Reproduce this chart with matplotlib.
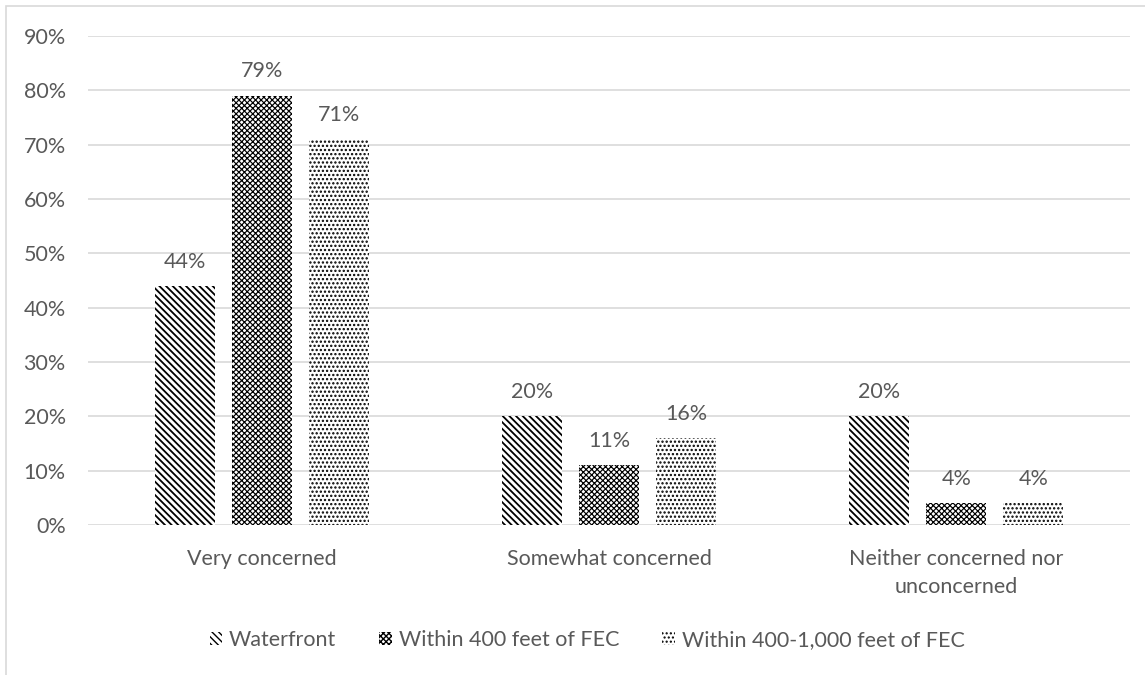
import matplotlib
matplotlib.use("Agg")
import matplotlib.pyplot as plt
from matplotlib.patches import Rectangle, Patch
import numpy as np

categories = ["Very concerned", "Somewhat concerned", "Neither concerned nor\nunconcerned"]
series_names = ["Waterfront", "Within 400 feet of FEC", "Within 400-1,000 feet of FEC"]
waterfront = [44, 20, 20]
within_400 = [79, 11, 4]
within_400_1000 = [71, 16, 4]
y_ticks = [0, 10, 20, 30, 40, 50, 60, 70, 80, 90]

series_values = [waterfront, within_400, within_400_1000]
hatches = ["\\" * 5, "x" * 6, "." * 4]
hatch_widths = [1.3, 0.85, 1.1]

TEXT = "#595959"
GRID = "#d9d9d9"
FONT = "Lato"
FS = 15.5

plt.rcParams["hatch.color"] = "black"

fig = plt.figure(figsize=(11.45, 6.75), dpi=100)
W, H = 1145, 675

# light chart frame (top and left edges visible)
fig.add_artist(Rectangle((6 / W, -0.1), 1.2, (H - 6) / H + 0.1, transform=fig.transFigure,
                         fill=False, edgecolor=GRID, linewidth=1.2))

ax = fig.add_axes([88 / W, (H - 525) / H, (1130 - 88) / W, (525 - 36) / H])
x = np.arange(len(categories))
step = 0.222
width = 0.173


def set_hatch_lw(patch, lw):
    if hasattr(patch, "set_hatch_linewidth"):
        patch.set_hatch_linewidth(lw)


for i, (name, vals, hatch, hlw) in enumerate(zip(series_names, series_values, hatches, hatch_widths)):
    pos = x + (i - 1) * step
    with plt.rc_context({"hatch.linewidth": hlw}):
        bars = ax.bar(pos, vals, width=width, color="white", edgecolor="black",
                      linewidth=0, hatch=hatch, label=name, zorder=3)
    for b, v in zip(bars, vals):
        set_hatch_lw(b, hlw)
        ax.annotate(f"{v}%", (b.get_x() + b.get_width() / 2, v), xytext=(0, 17.5),
                    textcoords="offset points", ha="center", va="center",
                    fontsize=FS, color=TEXT, family=FONT)

ax.set_xlim(-0.5, len(categories) - 0.5)
ax.set_ylim(0, 90)
ax.set_yticks(y_ticks)
ax.set_yticklabels([f"{t}%" for t in y_ticks], fontsize=FS, color=TEXT, family=FONT)
ax.set_xticks(x)
ax.set_xticklabels(categories, fontsize=FS, color=TEXT, family=FONT, linespacing=1.5)
ax.tick_params(axis="both", length=0)
ax.tick_params(axis="y", pad=16)
ax.tick_params(axis="x", pad=17)
ax.grid(axis="y", color=GRID, linewidth=1.2, zorder=0)
ax.set_axisbelow(True)
for s in ax.spines.values():
    s.set_visible(False)

handles = []
for h, hlw in zip(hatches, hatch_widths):
    with plt.rc_context({"hatch.linewidth": hlw}):
        p = Patch(facecolor="white", edgecolor="black", linewidth=0, hatch=h)
    set_hatch_lw(p, hlw)
    handles.append(p)
leg = fig.legend(handles, series_names, loc="center", bbox_to_anchor=(587 / W, (H - 640) / H),
                 ncol=3, frameon=False, handlelength=0.6, handleheight=0.6,
                 handletextpad=0.3, columnspacing=2.0,
                 prop={"family": FONT, "size": FS})
for t in leg.get_texts():
    t.set_color(TEXT)

fig.savefig("out.png", dpi=100)
